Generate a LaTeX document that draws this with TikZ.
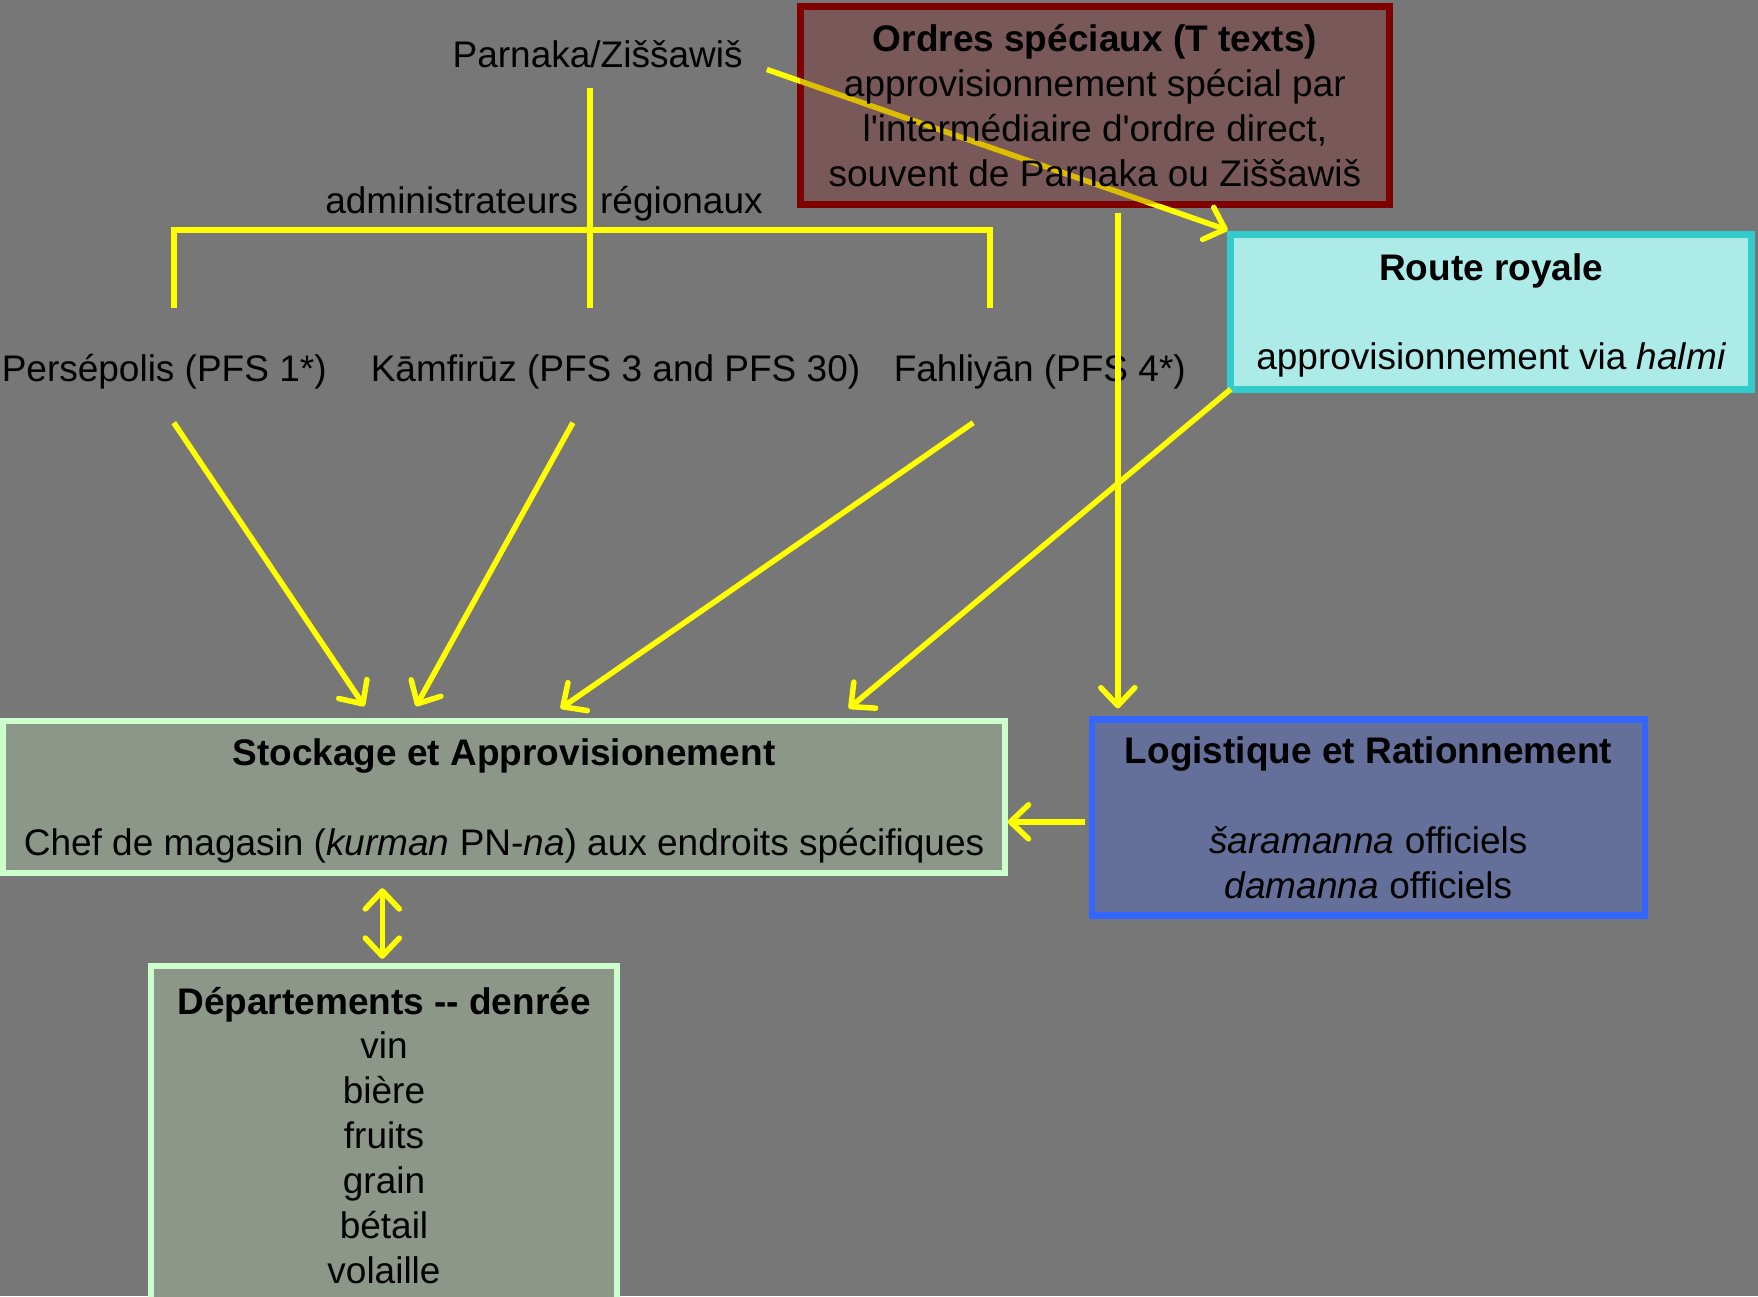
\documentclass[tikz,border=0pt]{standalone}
\usepackage{fontspec}
\setmainfont{Liberation Sans}
\usetikzlibrary{arrows.meta,calc}
\pgfdeclarelayer{bgl}
\pgfdeclarelayer{midl}
\pgfsetlayers{bgl,midl,main}
\definecolor{bggray}{RGB}{119,119,119}
\definecolor{yel}{RGB}{255,255,0}
\definecolor{ordborder}{RGB}{128,0,0}
\definecolor{ordfill}{RGB}{123,0,0}
\definecolor{routefill}{RGB}{173,235,233}
\definecolor{routeborder}{RGB}{51,204,204}
\definecolor{stockfill}{RGB}{140,151,137}
\definecolor{stockborder}{RGB}{204,255,204}
\definecolor{logifill}{RGB}{100,112,154}
\definecolor{logiborder}{RGB}{51,102,255}
\begin{document}
\begin{tikzpicture}[x=1pt,y=-1pt,
  every node/.style={inner sep=0pt, outer sep=0pt, align=center, text depth=0pt,
    font=\fontsize{37}{44.85}\selectfont},
  yline/.style={draw=yel, line width=5.5pt},
  yarr/.style={yline, -{Straight Barb[length=18pt,width=34pt,round]}},
  ydarr/.style={yline, {Straight Barb[length=18pt,width=34pt,round]}-{Straight Barb[length=18pt,width=34pt,round]}},
  ordbox/.style={minimum width=589pt, minimum height=198pt, fill=ordfill, fill opacity=0.26, text opacity=1},
  routebox/.style={minimum width=521pt, minimum height=155pt, fill=routefill, draw=routeborder, line width=6.7pt},
  stockbox/.style={minimum width=1002.5pt, minimum height=152pt, fill=stockfill, draw=stockborder, line width=6pt},
  logibox/.style={minimum width=553pt, minimum height=196pt, fill=logifill, draw=logiborder, line width=6.7pt},
  deptbox/.style={minimum width=466.5pt, minimum height=338pt, fill=stockfill, draw=stockborder, line width=6pt}
]
\useasboundingbox (0,0) rectangle (1758,1296);
\begin{pgfonlayer}{bgl}
\fill[bggray] (0,0) rectangle (1758,1296);
\end{pgfonlayer}

% text labels
\node (parnaka) at (597.6,53.8) {Parnaka/Ziššawiš};
\node (admin) at (544,199.6) {administrateurs\hspace{22pt}régionaux};
\node (pers) at (164.2,367.8) {Persépolis (PFS 1*)};
\node (kam) at (615.5,367.8) {Kāmfirūz (PFS 3 and PFS 30)};
\node (fah) at (1039.8,367.8) {Fahliyān (PFS 4*)};

% boxes
\node[ordbox] (ord) at (1094.9,105.4) {\textbf{Ordres spéciaux (T texts)}\\approvisionnement spécial par\\l\textquotesingle intermédiaire d\textquotesingle ordre direct,\\souvent de Parnaka ou Ziššawiš};
\begin{pgfonlayer}{bgl}
\draw[ordborder, line width=7pt] (ord.north west) rectangle (ord.south east);
\end{pgfonlayer}
\node[routebox] (route) at (1491.2,311.7) {\textbf{Route royale}\\[44.85pt]approvisionnement via \textit{halmi}};
\node[stockbox] (stock) at (504,797.2) {\textbf{Stockage et Approvisionement}\\[44.85pt]Chef de magasin (\textit{kurman} PN-\textit{na}) aux endroits spécifiques};
\node[logibox] (logi) at (1368.4,817.4) {\textbf{Logistique et Rationnement}\\[44.85pt]\textit{šaramanna} officiels\\\textit{damanna} officiels};
\node[deptbox] (dept) at (384,1135) {\textbf{Départements -{}- denrée}\\vin\\bière\\fruits\\grain\\bétail\\volaille};

% hierarchy lines
\coordinate (vtop) at ($(parnaka)+(-7.8,33.7)$);
\coordinate (vbot) at (589.8,308.3);
\coordinate (brl) at (173.8,308.3);
\coordinate (brr) at (990,308.3);
\draw[yline] (vtop) -- (vbot);
\draw[yline] (brl) -- (brl |- 0,229.8) -- (brr |- 0,229.8) -- (brr);

% special orders arrow (under the translucent fill)
\begin{pgfonlayer}{midl}
\draw[yarr] ($(parnaka)+(169.3,15.7)$) -- ($(route.north west)+(-3,-4)$);
\end{pgfonlayer}

% arrows to stockage
\draw[yarr] ($(pers)+(9.6,54.9)$) -- ($(stock.north)+(-139.6,-15)$);
\draw[yarr] ($(kam)+(-42.6,54.9)$) -- ($(stock.north)+(-88,-15)$);
\draw[yarr] ($(fah)+(-66.6,54.9)$) -- ($(stock.north)+(56.6,-12.8)$);
\draw[yarr] (route.south west) -- ($(stock.north)+(344.8,-12.8)$);

% vertical arrow to logistique
\coordinate (v1) at ($(ord.south)+(22.9,8.6)$);
\coordinate (v2) at ($(v1 |- logi.north)+(0,-11)$);
\draw[yarr] (v1) -- (v2);

% logistique to stockage
\coordinate (h1) at ($(logi.west)+(-6.5,4.4)$);
\coordinate (h2) at ($(h1 -| stock.east)+(2.5,0)$);
\draw[yarr] (h1) -- (h2);

% double arrow
\draw[ydarr] ($(stock.south)+(-121.7,15)$) -- ($(dept.north)+(-1.7,-7.2)$);
\end{tikzpicture}
\end{document}
